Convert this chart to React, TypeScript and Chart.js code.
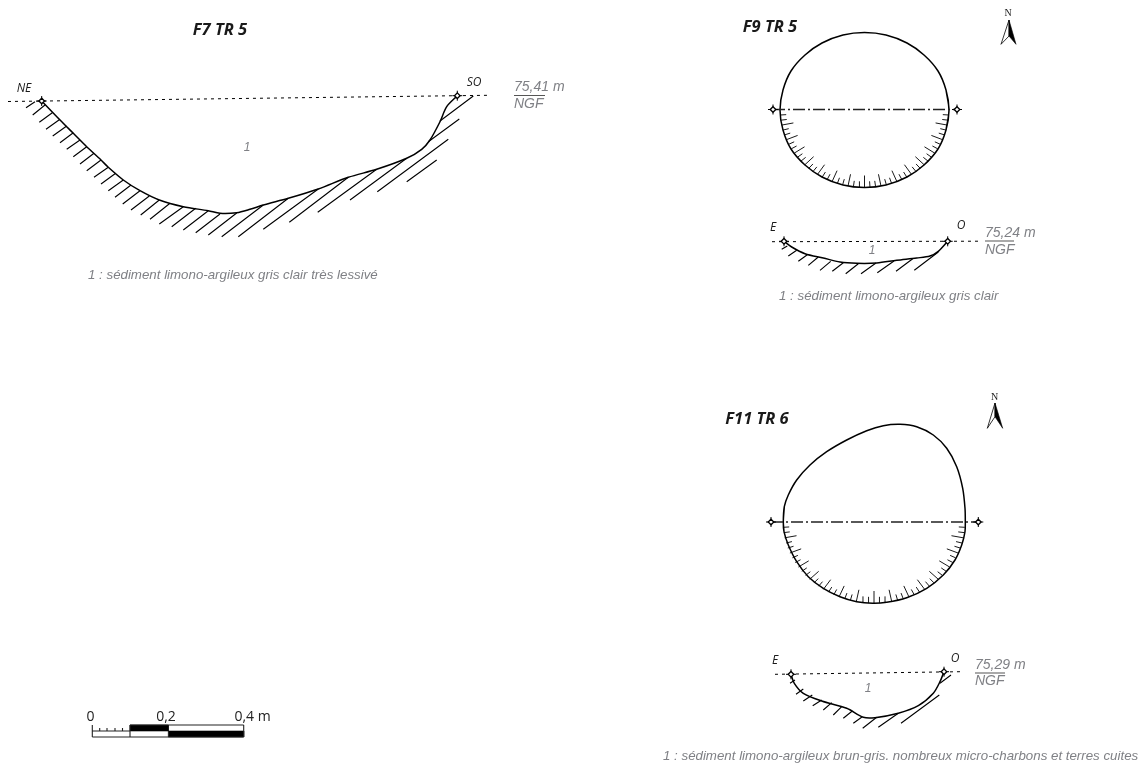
import React, { useEffect, useRef } from "react";
import { Chart, registerables } from "chart.js";

Chart.register(...registerables);

type P = [number, number];
type Seg = [number, number, number, number];

// ---------- F7 TR 5 ----------
const f7Profile: P[] = [[41.7,101],[60,120],[73.3,133.3],[86.7,146.7],[101,160],[108.3,167.3],[123.3,180],[140,190.7],[159.3,200],[183.3,206.7],[208.3,210.7],[220,213.3],[236.7,212.7],[250,209.3],[263.3,205],[288.3,198.3],[318.3,189],[348.3,177.3],[376.7,169.3],[406.7,158.3],[421.7,149.3],[430,140],[440,121.7],[446.7,106.7],[457.3,95.7]];
const f7Datum: P[] = [[8,101.5],[488,95.3]];
const f7Stations: P[] = [[41.7,101],[457.3,95.7]];
const f7Hatches: Seg[] = [
  [26,107.7,35,101.7],[32.7,115,45,105],[39.3,122.3,52.3,112.7],[46,129.3,60,119.3],
  [52.7,136,66.7,126],[60,142.7,73.3,132.7],[66.7,149.3,80,140],[73.3,156.7,86.7,146.7],
  [80,164,94,153.3],[86.7,170.7,101,160],[94,177.3,108.3,167.3],[101,184,115.7,173.3],
  [108.3,190.7,123.3,180],[115,197.3,131,185],[122.7,204,140,190.7],[131,210,149.3,196],
  [140.7,215,159.3,200],[150,219.3,170,203.3],[159.3,224,183.3,206.7],[171.7,226.7,195.7,208.3],
  [183.3,230,208.3,210.7],[195.7,232.7,220,214],[208.3,235,236.7,213],
  [221.7,236.7,263.3,205],[238.3,236.7,288.3,198.3],[263.3,229.3,318.3,189],[289.3,222.3,348.3,177.3],
  [317.7,212.3,376.7,169.3],[350,200,406.7,158.3],[377.3,191.7,448.3,139.3],[406.7,181.7,436.7,160],
  [428.3,141.7,459.3,119],[440,121,473.3,96],
];

// ---------- F9 TR 5 ----------
const f9Outline: P[] = [[949,110],[946,130],[938,149],[924,165],[907,177],[886,185],[864.5,187.5],[843,185],[822,177],[805,165],[791,149],[783,130],[780,110],[783,90],[791,71],[805,55],[822,43],[843,35],[864.5,32.5],[886,35],[907,43],[924,55],[938,71],[946,90]];
const f9Axis: P[] = [[773,109.5],[957,109.5]];
const f9AxisStations: P[] = [[773,109.5],[957,109.5]];
const f9Centre: P = [864.5, 110];
const f9TickFeet: P[] = [
  [948.8,115],[948.2,120.2],[947.4,125.1],[946.1,130.1],[944.5,134.9],[942.6,139.7],[940.3,144.3],[937.7,148.8],
  [934.7,153.1],[931.5,157.2],[928,161.1],[924.2,164.8],[920.2,168.3],[916,171.5],[911.5,174.4],[906.8,177.1],
  [901.8,179.5],[896.9,181.6],[891.6,183.4],[886.4,184.9],[881,186],[875.6,186.8],[870,187.3],[864.5,187.5],
  [859,187.3],[853.4,186.8],[848,186],[842.6,184.9],[837.4,183.4],[832.1,181.6],[827.2,179.5],[822.2,177.1],
  [817.5,174.4],[813,171.5],[808.8,168.3],[804.8,164.8],[801,161.1],[797.5,157.2],[794.3,153.1],[791.3,148.8],
  [788.7,144.3],[786.4,139.7],[784.5,134.9],[782.9,130.1],[781.6,125.1],[780.8,120.2],[780.2,115],
];
const f9Section: P[] = [[784,241.3],[791.7,247],[805,253.7],[823.3,258],[840,262],[856.7,263.3],[876.7,263],[896.7,260.3],[916.7,258],[930,256],[938.3,251.3],[947.7,241.3]];
const f9SectionDatum: P[] = [[772,241.7],[980,241.2]];
const f9SectionStations: P[] = [[784,241.3],[947.7,241.3]];
const f9SectionHatches: Seg[] = [
  [781.7,249.3,787.3,246],[788.3,256,796.7,250.3],[798.3,261.3,807.3,254.7],[808.3,265.3,818.3,257],
  [820,270.3,830.7,261.3],[832.3,271.3,843.3,262.7],[845.7,273.7,858.3,263.7],[861,273.7,876,263],
  [877.3,272.7,894,261],[896,271.3,912.7,258.7],[914.3,270.3,938.3,252],
];

// ---------- F11 TR 6 ----------
const f11Outline: P[] = [[783.3,521.7],[784.3,506.7],[788.3,495],[796.7,480],[810,465],[826.7,451.7],[846.7,440],[866.7,430.7],[883.3,425.7],[900,424.3],[916.7,426.7],[933.3,435],[946.7,448.3],[956.7,466.7],[962.7,488.3],[965,508.3],[965.3,521.7],[965,531.7],[961.7,545],[955,560],[943.3,575],[926.7,588.3],[906.7,597.7],[886.7,602.3],[872.7,603.3],[856.7,601.7],[840,596.7],[823.3,588.3],[808.3,576.7],[796.7,561.7],[788.3,545],[784,531.7]];
const f11Axis: P[] = [[771,522],[978.3,522]];
const f11AxisStations: P[] = [[771,522],[978.3,522]];
const f11Centre: P = [874, 522];
const f11TickFeet: P[] = [
  [964.8,527.3],[964.2,532.6],[963.3,537.8],[961.9,543],[960.2,548],[958.1,553],[955.6,557.8],[952.8,562.5],
  [949.6,567],[946.2,571.3],[942.4,575.4],[938.3,579.3],[934,582.9],[929.4,586.2],[924.6,589.3],[919.5,592.1],
  [914.2,594.7],[908.9,596.8],[903.2,598.7],[897.6,600.2],[891.7,601.5],[885.9,602.3],[879.9,602.8],[874,603],
  [868.1,602.8],[862.1,602.3],[856.3,601.5],[850.4,600.2],[844.8,598.7],[839.1,596.8],[833.8,594.7],[828.5,592.1],
  [823.4,589.3],[818.6,586.2],[814,582.9],[809.7,579.3],[805.6,575.4],[801.8,571.3],[798.4,567],[795.2,562.5],
  [792.4,557.8],[789.9,553],[787.8,548],[786.1,543],[784.7,537.8],[783.8,532.6],[783.2,527.3],
];
const f11Section: P[] = [[791,674.3],[794.3,683.3],[803.3,693.3],[821.7,701],[846.7,708.3],[863.3,717.3],[875,717.7],[898.3,713.3],[918.3,705.7],[933.3,693.3],[940,681.7],[944,671.7]];
const f11SectionDatum: P[] = [[775,674.3],[960.7,671.7]];
const f11SectionStations: P[] = [[791,674.3],[944,671.7]];
const f11SectionHatches: Seg[] = [
  [790,683.3,795,680],[796,694.3,803.3,689],[803.3,701,812.3,695],[812.7,705.7,821.7,700],
  [823.3,710,831.7,702.7],[833.3,715,841.7,706.7],[843.3,718.3,852.3,711],[853.3,723.3,862.3,716.7],
  [862.7,728.3,876.7,717.3],[878.3,727.3,898.3,713.3],[901,723.3,939.3,695],[940,683.3,951,675],
];

// ---------- Level rules under elevations ----------
const levelRules: Seg[] = [[514,95.5,545,95.5],[985,241,1014,241],[975,673,1005,673]];

// ---------- North arrows ----------
const north1Left: P[] = [[1009,20],[1001,44.3],[1009,36],[1009,20]];
const north1Right: P[] = [[1009,20],[1016,44.3],[1009,36],[1009,20]];
const north2Left: P[] = [[995,403],[987.3,428.3],[995,416.7],[995,403]];
const north2Right: P[] = [[995,403],[1002.7,428.3],[995,416.7],[995,403]];

// ---------- Scale bar ----------
const scaleOutline: Seg[] = [
  [92.3,725,92.3,737],[92.3,731,130,731],[92.3,737,243.7,737],[130,725,243.7,725],
  [130,725,130,737],[243.7,725,243.7,737],[99.7,728,99.7,731],[107,728,107,731],
  [115,728,115,731],[122.5,728,122.5,731],
];
const scaleBlackTop: P[] = [[130,725],[168.3,725],[168.3,731],[130,731],[130,725]];
const scaleBlackBottom: P[] = [[168.3,731],[243.7,731],[243.7,737],[168.3,737],[168.3,731]];

// ---------- Texts ----------
const OPEN = '"Open Sans"';
const LIB = '"Liberation Sans"';
const GREY = "#7f8085";
const INK = "#1a1a1a";
type Label = { t: string; x: number; y: number; f: string; c: string; a?: CanvasTextAlign };
const labels: Label[] = [
  { t: "F7 TR 5", x: 220, y: 30, f: `italic bold 16.5px ${OPEN}`, c: INK, a: "center" },
  { t: "F9 TR 5", x: 770, y: 27, f: `italic bold 16.5px ${OPEN}`, c: INK, a: "center" },
  { t: "F11 TR 6", x: 757, y: 419, f: `italic bold 16.5px ${OPEN}`, c: INK, a: "center" },
  { t: "NE", x: 24, y: 88.5, f: `italic 12px ${OPEN}`, c: INK, a: "center" },
  { t: "SO", x: 474, y: 83, f: `italic 12px ${OPEN}`, c: INK, a: "center" },
  { t: "E", x: 773, y: 228, f: `italic 12px ${OPEN}`, c: INK, a: "center" },
  { t: "O", x: 961, y: 226, f: `italic 12px ${OPEN}`, c: INK, a: "center" },
  { t: "E", x: 775, y: 661, f: `italic 12px ${OPEN}`, c: INK, a: "center" },
  { t: "O", x: 955, y: 659, f: `italic 12px ${OPEN}`, c: INK, a: "center" },
  { t: "1", x: 247, y: 148, f: `italic 12px ${LIB}`, c: GREY, a: "center" },
  { t: "1", x: 872, y: 251, f: `italic 12px ${LIB}`, c: GREY, a: "center" },
  { t: "1", x: 868, y: 689, f: `italic 12px ${LIB}`, c: GREY, a: "center" },
  { t: "75,41 m", x: 514, y: 87, f: `italic 14px ${LIB}`, c: GREY },
  { t: "NGF", x: 514, y: 104, f: `italic 14px ${LIB}`, c: GREY },
  { t: "75,24 m", x: 985, y: 233, f: `italic 14px ${LIB}`, c: GREY },
  { t: "NGF", x: 985, y: 250, f: `italic 14px ${LIB}`, c: GREY },
  { t: "75,29 m", x: 975, y: 665, f: `italic 14px ${LIB}`, c: GREY },
  { t: "NGF", x: 975, y: 681, f: `italic 14px ${LIB}`, c: GREY },
  { t: "1 : sédiment limono-argileux gris clair très lessivé", x: 88, y: 275, f: `italic 13.3px ${LIB}`, c: GREY },
  { t: "1 : sédiment limono-argileux gris clair", x: 779, y: 296, f: `italic 13.3px ${LIB}`, c: GREY },
  { t: "1 : sédiment limono-argileux brun-gris. nombreux micro-charbons et terres cuites", x: 663, y: 756, f: `italic 13.3px ${LIB}`, c: GREY },
  { t: "N", x: 1008, y: 13, f: `10px "Liberation Serif"`, c: INK, a: "center" },
  { t: "N", x: 994.5, y: 397, f: `10px "Liberation Serif"`, c: INK, a: "center" },
  { t: "0", x: 90.5, y: 717, f: `14px ${OPEN}`, c: "#222", a: "center" },
  { t: "0,2", x: 166, y: 717, f: `14px ${OPEN}`, c: "#222", a: "center" },
  { t: "0,4 m", x: 252.5, y: 717, f: `14px ${OPEN}`, c: "#222", a: "center" },
];

// ---------- Helpers turning the lists above into Chart.js data ----------
const pts = (l: P[]) => l.map(([x, y]) => ({ x, y }));
const segs = (l: Seg[]) =>
  l.flatMap(([a, b, c, d]) => [{ x: a, y: b }, { x: c, y: d }, { x: NaN, y: NaN }]);
const ticks = (feet: P[], [cx, cy]: P) =>
  feet.map(([x, y], i): Seg => {
    const dx = cx - x, dy = cy - y, r = Math.hypot(dx, dy);
    const len = (i + 1) % 3 === 0 ? 12 : 6;
    return [x, y, x + (dx / r) * len, y + (dy / r) * len];
  });

const line = (data: any[], extra: any = {}) => ({
  data, showLine: true, pointRadius: 0, pointHoverRadius: 0,
  borderColor: "#000", backgroundColor: "#000", borderWidth: 1.1, fill: false, tension: 0, ...extra,
});
const curve = (l: P[]) => line(pts(l), { borderWidth: 1.5, tension: 0.3 });
const ring = (l: P[]) => curve([l[l.length - 1], ...l, l[0], l[1]]);
const dotted = (l: P[]) => line(pts(l), { borderDash: [3, 4], borderWidth: 1 });
const dashDot = (l: P[]) => line(pts(l), { borderDash: [12, 3, 2, 3], borderWidth: 1.4, borderColor: "#222" });
const solid = (l: P[]) => line(pts(l), { fill: "shape", borderWidth: 0.6 });
const openSolid = (l: P[]) => line(pts(l), { fill: false, borderWidth: 0.8 });
const stationCross = (l: P[]) => ({
  data: pts(l), showLine: false, pointStyle: "cross", pointRadius: 5, pointBorderColor: "#000", pointBorderWidth: 1,
});
const stationEye = (l: P[]) => ({
  data: pts(l), showLine: false, pointStyle: "rectRot", pointRadius: 2.8,
  pointBackgroundColor: "#fff", pointBorderColor: "#000", pointBorderWidth: 1.3,
});

const textPlugin = {
  id: "texts",
  afterDatasetsDraw(chart: any) {
    const { ctx, scales } = chart;
    ctx.save();
    ctx.textBaseline = "middle";
    for (const l of labels) {
      ctx.font = l.f;
      ctx.fillStyle = l.c;
      ctx.textAlign = l.a ?? "left";
      ctx.fillText(l.t, scales.x.getPixelForValue(l.x), scales.y.getPixelForValue(l.y));
    }
    ctx.restore();
  },
};

export default function App() {
  const ref = useRef<HTMLCanvasElement>(null);
  useEffect(() => {
    if (!ref.current) return;
    const stations = [f7Stations, f9AxisStations, f9SectionStations, f11AxisStations, f11SectionStations];
    const chart = new Chart(ref.current, {
      type: "scatter",
      data: {
        datasets: [
          ...stations.map(stationEye), ...stations.map(stationCross),
          dotted(f7Datum), dotted(f9SectionDatum), dotted(f11SectionDatum),
          dashDot(f9Axis), dashDot(f11Axis),
          curve(f7Profile), ring(f9Outline), curve(f9Section), ring(f11Outline), curve(f11Section),
          line(segs(f7Hatches)), line(segs(f9SectionHatches)), line(segs(f11SectionHatches)),
          line(segs(ticks(f9TickFeet, f9Centre)), { borderWidth: 0.9 }),
          line(segs(ticks(f11TickFeet, f11Centre)), { borderWidth: 0.9 }),
          line(segs(levelRules), { borderColor: "#555" }),
          openSolid(north1Left), solid(north1Right), openSolid(north2Left), solid(north2Right),
          line(segs(scaleOutline), { borderColor: "#222" }), solid(scaleBlackTop), solid(scaleBlackBottom),
        ] as any,
      },
      options: {
        animation: false,
        responsive: false,
        events: [],
        layout: { padding: 0, autoPadding: false },
        clip: false,
        scales: {
          x: { type: "linear", min: 0, max: 1140, display: false },
          y: { type: "linear", min: 0, max: 767, reverse: true, display: false },
        },
        plugins: { legend: { display: false }, tooltip: { enabled: false }, title: { display: false } },
      } as any,
      plugins: [textPlugin],
    });
    return () => chart.destroy();
  }, []);
  return (
    <div style={{ position: "absolute", left: 0, top: 0, width: 1140, height: 767, background: "#fff" }}>
      <canvas ref={ref} width={1140} height={767} style={{ display: "block" }} />
    </div>
  );
}
